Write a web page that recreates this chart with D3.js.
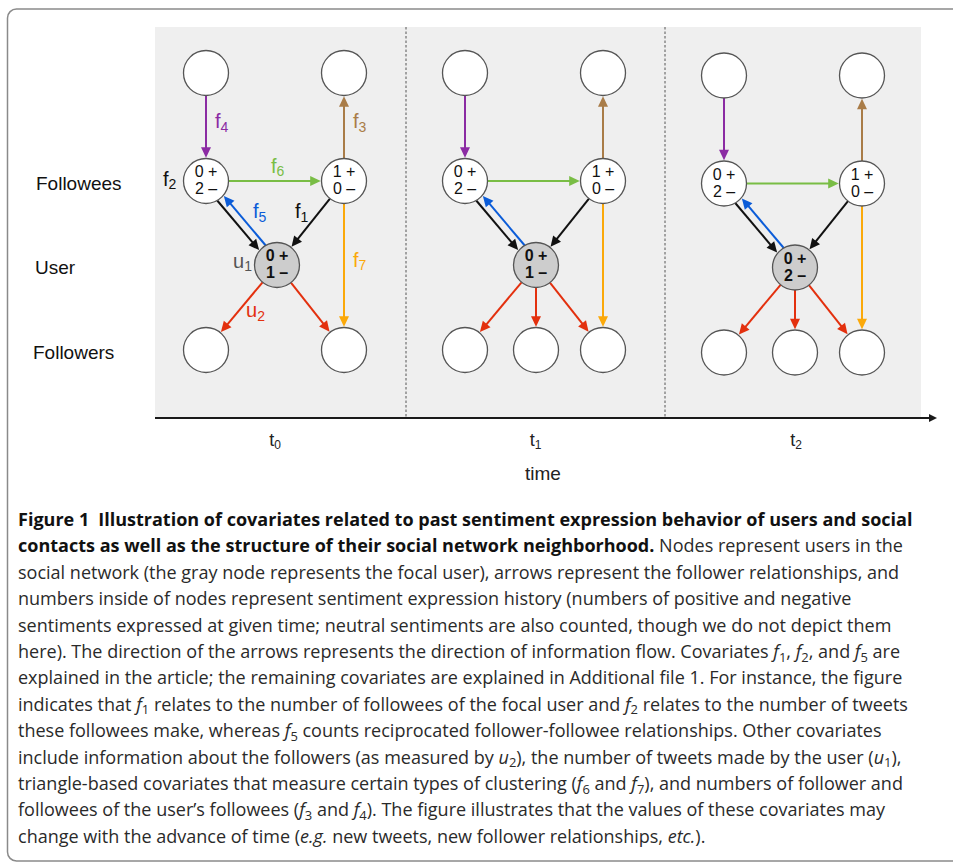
<!DOCTYPE html>
<html><head><meta charset="utf-8">
<script src="https://cdn.jsdelivr.net/npm/d3@7"></script>
<style>body{margin:0;background:#fff} svg{display:block}</style>
</head><body><svg id="c" width="953" height="864"></svg>
<script>
// ---------------- DATA ----------------
const timeTicks = ["t", "t", "t"];
const timeSubs = ["0", "1", "2"];
const axisTitle = "time";
const rowLabels = ["Followees", "User", "Followers"];
// sentiment counts of the two followees in each time step [left, right]
const followeePlus = [[0, 1], [0, 1], [0, 1]];
const followeeMinus = [[2, 0], [2, 0], [2, 0]];
// sentiment counts of the focal user per time step
const userPlus = [0, 0, 0];
const userMinus = [1, 1, 2];
// followers present in each time step (columns)
const followerCols = [[0, 2], [0, 1, 2], [0, 1, 2]];
// edges: source, target, colour key
const edgeList = [
  ["topL", "feL", "purple"],
  ["feR", "topR", "brown"],
  ["feL", "feR", "green"],
  ["feL", "user", "black"],
  ["user", "feL", "blue"],
  ["feR", "user", "black"],
  ["feR", "fo2", "orange"]
];
// covariate labels shown in first panel
const covLabels = [
  ["f", "4", "purple"], ["f", "3", "brown"], ["f", "6", "green"], ["f", "2", "black"],
  ["f", "5", "blue"], ["f", "1", "black"], ["u", "1", "gray"], ["u", "2", "red"], ["f", "7", "orange"]
];
const captionLines = [
  "*Figure 1\u2002Illustration of covariates related to past sentiment expression behavior of users and social*",
  "*contacts as well as the structure of their social network neighborhood.* Nodes represent users in the",
  "social network (the gray node represents the focal user), arrows represent the follower relationships, and",
  "numbers inside of nodes represent sentiment expression history (numbers of positive and negative",
  "sentiments expressed at given time; neutral sentiments are also counted, though we do not depict them",
  "here). The direction of the arrows represents the direction of information flow. Covariates {f1}, {f2}, and {f5} are",
  "explained in the article; the remaining covariates are explained in Additional file 1. For instance, the figure",
  "indicates that {f1} relates to the number of followees of the focal user and {f2} relates to the number of tweets",
  "these followees make, whereas {f5} counts reciprocated follower-followee relationships. Other covariates",
  "include information about the followers (as measured by {u2}), the number of tweets made by the user ({u1}),",
  "triangle-based covariates that measure certain types of clustering ({f6} and {f7}), and numbers of follower and",
  "followees of the user\u2019s followees ({f3} and {f4}). The figure illustrates that the values of these covariates may",
  "change with the advance of time (_e.g._ new tweets, new follower relationships, _etc._)."
];

// ---------------- LAYOUT ----------------
const colors = {purple: "#8b2ba3", brown: "#a97c48", green: "#79bd45", black: "#111", blue: "#0b5cd8",
  orange: "#fba90a", red: "#e3300e", gray: "#555"};
const svg = d3.select("#c");
const R = 22.5;
const sans = "'Liberation Sans',Arial,Helvetica,sans-serif";
const panelX = d3.scaleLinear().domain([0, 2]).range([206, 724]);
const colX = d3.scaleOrdinal().domain([0, 1, 2]).range([0, 71, 138]);
const rowY = d3.scaleOrdinal().domain(["top", "followee", "user", "follower"]).range([73, 181, 265, 350]);
const panelDy = [0, 0, 2.5];
const bounds = [155, 406, 665, 921];
const panelTop = 27, axisY = 418;
const tickX = d3.scalePoint().domain(d3.range(3)).range([275, 796]);

// frame
svg.append("rect").attr("x", 7.5).attr("y", 9).attr("width", 1000).attr("height", 852).attr("rx", 9)
  .attr("fill", "none").attr("stroke", "#8a8a8a").attr("stroke-width", 1.5);
// gray panel
svg.append("rect").attr("x", bounds[0]).attr("y", panelTop).attr("width", bounds[3] - bounds[0]).attr("height", axisY - panelTop)
  .attr("fill", "#efefef");
// separators
[bounds[1], bounds[2]].forEach(x => svg.append("line").attr("x1", x).attr("x2", x).attr("y1", panelTop).attr("y2", axisY)
  .attr("stroke", "#555").attr("stroke-width", 1).attr("stroke-dasharray", "2.5,2"));
// axis
svg.append("line").attr("x1", bounds[0]).attr("x2", 930).attr("y1", axisY).attr("y2", axisY)
  .attr("stroke", "#1a1a1a").attr("stroke-width", 2);
svg.append("path").attr("d", `M937,${axisY} L929,${axisY - 4} L929,${axisY + 4} Z`).attr("fill", "#1a1a1a");

const narrow = "'Liberation Sans Narrow','Arial Narrow','Liberation Sans',Arial,sans-serif";
timeTicks.forEach((t, i) => {
  const tx = svg.append("text").attr("x", tickX(i)).attr("y", 446).attr("text-anchor", "middle")
    .attr("font-family", narrow).attr("font-size", 18).attr("fill", "#222");
  tx.append("tspan").text(t);
  tx.append("tspan").attr("font-size", 12).attr("dy", 3).text(timeSubs[i]);
});
svg.append("text").attr("x", 543).attr("y", 480).attr("text-anchor", "middle").attr("font-family", narrow)
  .attr("font-size", 19).attr("fill", "#222").text(axisTitle);

// row labels
const rowKeys = ["followee", "user", "follower"];
const rowLabelX = [36, 35, 33];
rowLabels.forEach((l, i) => svg.append("text").attr("x", rowLabelX[i]).attr("y", rowY(rowKeys[i]) + 8.5)
  .attr("font-family", sans).attr("font-size", 19).attr("fill", "#111").text(l));

// arrows
function arrow(g, s, t, color, off) {
  const dx = t.x - s.x, dy = t.y - s.y, L = Math.hypot(dx, dy), ux = dx / L, uy = dy / L, px = -uy, py = ux;
  const a = Math.sqrt(R * R - off * off);
  const x1 = s.x + ux * a + px * off, y1 = s.y + uy * a + py * off;
  const x2 = t.x - ux * (a + 0.8) + px * off, y2 = t.y - uy * (a + 0.8) + py * off;
  const hl = 10.5, hw = 5;
  g.append("line").attr("x1", x1).attr("y1", y1).attr("x2", x2 - ux * (hl - 1)).attr("y2", y2 - uy * (hl - 1))
    .attr("stroke", colors[color]).attr("stroke-width", 2);
  const bx = x2 - ux * hl, by = y2 - uy * hl;
  g.append("path").attr("d", `M${x2},${y2} L${bx + px * hw},${by + py * hw} L${bx - px * hw},${by - py * hw} Z`)
    .attr("fill", colors[color]);
}

const panelNodes = [];
d3.range(3).forEach(p => {
  const g = svg.append("g");
  const X = c => panelX(p) + colX(c);
  const Y = r => rowY(r) + panelDy[p];
  const N = {
    topL: {x: X(0), y: Y("top")}, topR: {x: X(2), y: Y("top")},
    feL: {x: X(0), y: Y("followee"), l: [followeePlus[p][0] + " +", followeeMinus[p][0] + " \u2013"]},
    feR: {x: X(2), y: Y("followee"), l: [followeePlus[p][1] + " +", followeeMinus[p][1] + " \u2013"]},
    user: {x: X(1), y: Y("user"), l: [userPlus[p] + " +", userMinus[p] + " \u2013"], focal: true}
  };
  followerCols[p].forEach(c => N["fo" + c] = {x: X(c), y: Y("follower")});
  panelNodes.push(N);
  edgeList.forEach(e => {
    const off = (e[0] === "feL" && e[1] === "user") || (e[0] === "user" && e[1] === "feL") ? 4 : 0;
    arrow(g, N[e[0]], N[e[1]], e[2], off);
  });
  followerCols[p].forEach(c => arrow(g, N.user, N["fo" + c], "red", 0));
  Object.values(N).forEach(n => {
    g.append("circle").attr("cx", n.x).attr("cy", n.y).attr("r", R)
      .attr("fill", n.focal ? "#cdcdcd" : "#fff").attr("stroke", "#555").attr("stroke-width", 1.3);
    if (n.l) {
      n.l.forEach((s, k) => g.append("text").attr("x", n.x).attr("y", n.y + (k ? 13 : -3.8))
        .attr("text-anchor", "middle").attr("font-family", sans)
        .attr("font-size", 16).attr("font-weight", n.focal ? "bold" : "normal").attr("fill", "#111").text(s));
    }
  });
});

// covariate label positions (relative to first-panel nodes)
const N0 = panelNodes[0];
const labelPos = [
  [N0.topL.x + 9, N0.feL.y - 53], [N0.topR.x + 9, N0.feR.y - 53], [N0.feL.x + 65, N0.feL.y - 8.3],
  [N0.feL.x - 43, N0.feL.y + 4.7], [N0.feL.x + 47, N0.feL.y + 37.3], [N0.feR.x - 49, N0.feR.y + 37.3],
  [N0.user.x - 44, N0.user.y + 2.7], [N0.user.x - 31, N0.user.y + 52], [N0.feR.x + 9, N0.user.y + 1.7]
];
covLabels.forEach((lb, i) => {
  const t = svg.append("text").attr("x", labelPos[i][0]).attr("y", labelPos[i][1])
    .attr("font-family", sans).attr("font-size", 20).attr("fill", colors[lb[2]]);
  t.append("tspan").text(lb[0]);
  t.append("tspan").attr("font-size", 14).attr("dy", 3.5).text(lb[1]);
});

// caption
const capFont = "'Open Sans','Noto Sans',sans-serif";
const cap = svg.append("g").attr("font-family", capFont).attr("fill", "#2a2a2a");
const lineNodes = captionLines.map((line, i) => {
  const t = cap.append("text").attr("x", 18).attr("y", 526 + 26.4 * i).attr("font-size", 16);
  const parts = line.split(/(\*[^*]+\*|\{[fu]\d\}|_[^_]+_)/).filter(s => s.length);
  let pendingUp = 0;
  parts.forEach(s => {
    let sp;
    if (s[0] === "*") { sp = t.append("tspan").attr("font-weight", "bold").attr("fill", "#111").text(s.slice(1, -1)); }
    else if (s[0] === "_") { sp = t.append("tspan").attr("font-style", "italic").text(s.slice(1, -1)); }
    else if (s[0] === "{") {
      sp = t.append("tspan").attr("font-style", "italic").text(s[1]);
      if (pendingUp) { sp.attr("dy", -pendingUp); pendingUp = 0; }
      t.append("tspan").attr("font-size", "0.72em").attr("dy", 3.5).text(s[2]);
      pendingUp = 3.5;
      return;
    } else { sp = t.append("tspan").text(s); }
    if (pendingUp) { sp.attr("dy", -pendingUp); pendingUp = 0; }
  });
  return t;
});
// fit caption size to the reference text block width
const w3 = lineNodes[2].node().getComputedTextLength();
const fs = 16 * 882 / w3;
lineNodes.forEach(t => t.attr("font-size", fs));
</script></body></html>
